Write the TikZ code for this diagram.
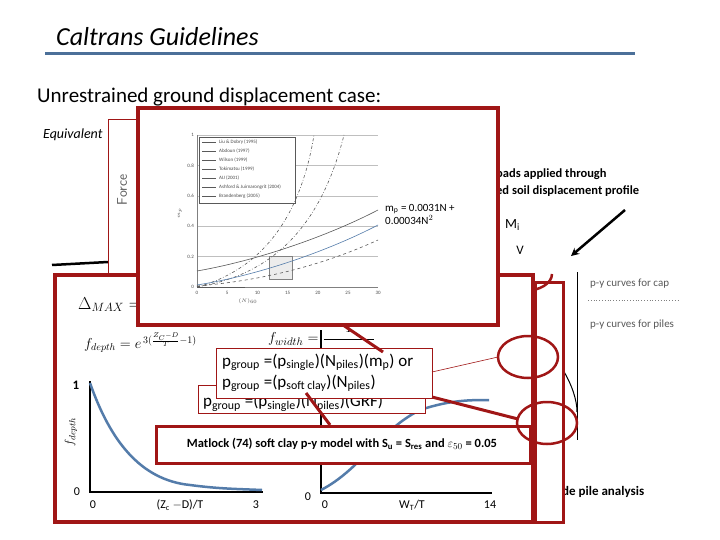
\documentclass[tikz,border=0pt]{standalone}
\usepackage{fontspec}
\setmainfont{Carlito}
\usepackage{amsmath}
\begin{document}
\begin{tikzpicture}[x=1pt,y=-1pt,
  redbox/.style={draw=boxred,line width=3.5pt,fill=white},
  redln/.style={draw=boxred,line width=3pt},
  curve/.style={draw=curveblue,line width=2.5pt},
  ax/.style={draw=black,line width=2pt},
  lbl/.style={font=\fontsize{12}{12}\selectfont,inner sep=0pt},
  grid/.style={draw=gray!50,line width=0.5pt},
  ell/.style={draw=boxred,line width=2.5pt},
  tiny/.style={font=\fontsize{5}{5}\selectfont,inner sep=0pt,text=gray!60!black}]
\definecolor{boxred}{RGB}{160,22,22}
\definecolor{curveblue}{RGB}{84,124,170}
\useasboundingbox (0,0) rectangle (720,540);
\fill[white] (0,0) rectangle (720,540);
% title
\node[anchor=west,inner sep=0pt,font=\fontsize{26}{26}\selectfont\itshape] (title) at (56,37) {Caltrans Guidelines};
\draw[line width=3pt,draw=curveblue!90!black] (45,54) -- (635,54);
\node[anchor=west,inner sep=0pt,font=\fontsize{21}{21}\selectfont] (sub) at (37,97) {Unrestrained ground displacement case:};
\node[anchor=west,inner sep=0pt,font=\fontsize{14}{14}\selectfont\itshape] (eq) at (43,135) {Equivalent};
\draw[line width=2.5pt] (52,265) -- (108,262);
% Force box
\draw[draw=boxred,line width=1pt,fill=white] (108,120) rectangle (160,278);
\node[rotate=90,font=\fontsize{14}{14}\selectfont\sffamily,text=gray!70!black] (force) at (122,190) {Force};
% right side
\node[anchor=west,inner sep=0pt,font=\fontsize{12.5}{12.5}\selectfont\bfseries] (loads) at (496,174) {oads applied through};
\node[anchor=west,inner sep=0pt,font=\fontsize{12.5}{12.5}\selectfont\bfseries] (loads2) at (496,191) {ed soil displacement profile};
\node[anchor=west,inner sep=0pt,font=\fontsize{14}{14}\selectfont] (mi) at (505,225) {M$_{\text{i}}$};
\coordinate (arA) at (625,210); \coordinate (arB) at (571,256);
\draw[line width=2.5pt,-stealth] (arA) -- (arB);
\node[inner sep=0pt,font=\fontsize{13}{13}\selectfont] (v) at (520,250) {V};
\draw[line width=1pt] (577,272) -- (577,440);
\node[anchor=west,inner sep=0pt,font=\fontsize{11}{11}\selectfont,text=gray!70!black] (cap) at (590,284) {p-y curves for cap};
\draw[gray,dotted,line width=0.8pt] (588,300) -- (678,300);
\node[anchor=west,inner sep=0pt,font=\fontsize{11}{11}\selectfont,text=gray!70!black] (piles) at (590,325) {p-y curves for piles};
\draw[line width=1pt] (563,370) .. controls (572,385) and (577,400) .. (577,412);
\node[anchor=west,inner sep=0pt,font=\fontsize{13}{13}\selectfont\bfseries] (anal) at (562,492) {de pile analysis};
% red semicircle on cap
\draw[draw=boxred,line width=2.5pt] (496,274) arc (180:0:28 and 17);
% lower big panel
\draw[redbox] (55,275) rectangle (533,522);
\draw[draw=boxred,line width=3pt] (535,282) rectangle (563,522);
\node[anchor=west,inner sep=0pt,font=\fontsize{17}{17}\selectfont] (dmax) at (78,305) {$\Delta_{MAX}=($};
\node[anchor=west,inner sep=0pt,font=\fontsize{14}{14}\selectfont] (fd) at (84,343) {$f_{depth}=e^{\,3(\frac{Z_C-D}{T}-1)}$};
\node[anchor=west,inner sep=0pt,font=\fontsize{15}{15}\selectfont] (fw) at (268,338) {$f_{width}=\dfrac{1}{\rule{50pt}{0pt}}$};
% plot 1
\coordinate (o1) at (90,492);
\draw[ax] (90,381) -- (o1) -- (263,492);
\draw[curve] (90,383) .. controls (110,440) and (140,480) .. (190,485) .. controls (220,489) and (240,489) .. (262,490);
\node[lbl,font=\fontsize{13}{13}\selectfont\bfseries] (one1) at (76,385) {1};
\node[lbl] (z1) at (77,492) {0};
\node[lbl] (z1b) at (93,505) {0};
\node[lbl] (xl1) at (180,505) {(Z$_{\text{c}}$ $-$D)/T};
\node[lbl] (t1) at (256,505) {3};
\node[lbl,rotate=90,font=\fontsize{13}{13}\selectfont\itshape] (yl1) at (71,432) {$f_{depth}$};
% plot 2
\draw[ax] (321,330) -- (321,493) -- (492,493);
\draw[curve] (321,490) .. controls (360,470) and (380,430) .. (420,410) .. controls (450,400) and (470,400) .. (489,400);
\node[lbl] (z2) at (308,497) {0};
\node[lbl] (z2b) at (325,505) {0};
\node[lbl] (xl2) at (412,505) {W$_{\text{T}}$/T};
\node[lbl] (t2) at (490,505) {14};
% graph box
\draw[redbox] (138,108) rectangle (498,325);
% graph content
\foreach \yy in {135,165.4,195.8,226.2,256.6} \draw[grid] (197,\yy) -- (378,\yy);
\draw[gray,line width=0.6pt] (197,135) -- (197,287) -- (378,287);
\foreach \i/\t in {0/0,1/5,2/10,3/15,4/20,5/25,6/30} \node[tiny] at (197+\i*30.2,293) {\t};
\foreach \i/\t in {0/0,1/0.2,2/0.4,3/0.6,4/0.8,5/1} \node[tiny,anchor=east] at (194,287-\i*30.4) {\t};
\node[tiny] at (248,301) {$(N)_{60}$};
\node[tiny,rotate=90] at (180,213) {$m_p$};
\draw[gray!70!black,line width=0.6pt,fill=white] (199,137) rectangle (295,203);
\foreach \k/\t in {0/Liu \& Dobry (1995),1/Abdoun (1997),2/Wilson (1999),3/Tokimatsu (1999),4/AIJ (2001),5/Ashford \& Juirnarongrit (2004),6/Brandenberg (2005)} {
  \draw[gray!70!black,line width=0.5pt] (202,142+\k*9) -- (216,142+\k*9);
  \node[tiny,anchor=west] at (219,142+\k*9) {\t};}
\draw[gray,fill=gray!15] (269,256) rectangle (292,279);
\draw[gray!70!black,line width=0.6pt,dash dot] (197,287) .. controls (260,270) and (300,220) .. (314,135);
\draw[gray!70!black,line width=0.6pt,dash dot] (197,287) .. controls (270,275) and (320,230) .. (344,135);
\draw[gray!70!black,line width=0.6pt] (197,271) .. controls (260,260) and (330,235) .. (378,210);
\draw[curveblue,line width=0.6pt] (197,285) .. controls (260,275) and (330,250) .. (378,225);
\draw[gray!70!black,line width=0.6pt,dashed] (197,286) .. controls (270,280) and (330,262) .. (378,240);
\draw[gray!70!black,line width=0.6pt] (197,287) -- (245,287);
\node[anchor=west,inner sep=0pt,font=\fontsize{11}{13}\selectfont,align=left] (mp) at (385,214) {m$_{\text{p}}$ = 0.0031N +\\0.00034N$^{2}$};
% pgroup boxes
\node[draw=boxred,line width=1pt,fill=white,minimum width=227pt,minimum height=28pt,anchor=north west,inner sep=0pt] (pg3) at (198,385) {};
\node[anchor=west,inner sep=0pt,font=\fontsize{17}{17}\selectfont] (pg3t) at (203,403) {p$_{\text{group}}$ =(p$_{\text{single}}$)(N$_{\text{piles}}$)(GRF)};
\node[draw=boxred,line width=1pt,fill=white,anchor=north west,minimum width=216pt,minimum height=50pt,inner sep=0pt] (pg) at (216,348) {};
\node[anchor=west,inner sep=0pt,font=\fontsize{17}{21}\selectfont,align=left] (pgt) at (222,373) {p$_{\text{group}}$ =(p$_{\text{single}}$)(N$_{\text{piles}}$)(m$_{\text{p}}$) or\\p$_{\text{group}}$ =(p$_{\text{soft clay}}$)(N$_{\text{piles}}$)};
\node[redbox,line width=3pt,anchor=north west,minimum width=374pt,minimum height=37pt,inner sep=0pt] (mat) at (155,425) {};
\node[inner sep=0pt,font=\fontsize{12.5}{12.5}\selectfont\bfseries] (matt) at (342,444) {Matlock (74) soft clay p-y model with S$_{\text{u}}$ = S$_{\text{res}}$ and $\varepsilon_{50}$ = 0.05};
% ellipses
\coordinate (e1) at (528,357);
\coordinate (e2) at (547,423);
\draw[ell] (498,357) .. controls (498,345) and (512,336) .. (528,336) .. controls (544,336) and (558,345) .. (558,357) .. controls (558,369) and (544,378) .. (528,378) .. controls (512,378) and (498,369) .. (498,357) -- cycle;
\draw[ell] (517,423) .. controls (517,411) and (531,402) .. (547,402) .. controls (563,402) and (577,411) .. (577,423) .. controls (577,435) and (563,444) .. (547,444) .. controls (531,444) and (517,435) .. (517,423) -- cycle;
\coordinate (e1w) at (498,357);
\coordinate (e2w) at (518,419);
% connectors
\coordinate (c1) at (343,325); \coordinate (c2) at (383,352);
\draw[redln] (c1) -- (c2);
\coordinate (c0) at (432,372);
\draw[draw=boxred,line width=0.6pt] (c0) -- (e1w);
\coordinate (c3) at (432,397);
\draw[redln] (c3) -- (e2w);
\coordinate (c4) at (306,393); \coordinate (c5) at (330,425);
\draw[redln] (c4) -- (c5);
\end{tikzpicture}
\end{document}
